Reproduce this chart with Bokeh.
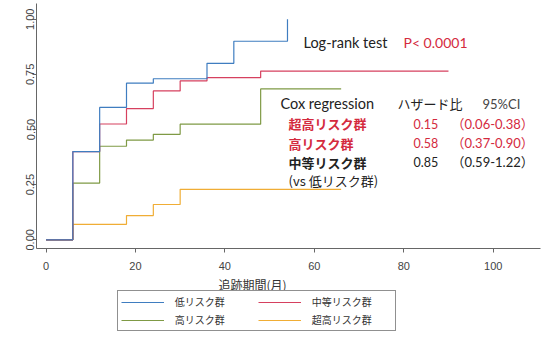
from bokeh.plotting import figure
from bokeh.models import Range1d, FixedTicker, Legend, LegendItem, Label
from bokeh.embed import file_html
from bokeh.resources import INLINE

# ---------------- data ----------------
months_low = [0, 6, 12, 18, 24, 36, 42, 54]
surv_low = [0.00, 0.40, 0.60, 0.71, 0.73, 0.80, 0.90, 1.00]
months_mid = [0, 6, 12, 18, 24, 30, 36, 48, 90]
surv_mid = [0.00, 0.40, 0.525, 0.595, 0.675, 0.72, 0.735, 0.765, 0.765]
months_high = [0, 6, 12, 18, 24, 30, 48, 66]
surv_high = [0.00, 0.257, 0.424, 0.452, 0.478, 0.524, 0.684, 0.684]
months_vhigh = [0, 6, 18, 24, 30, 66]
surv_vhigh = [0.00, 0.07, 0.11, 0.16, 0.229, 0.229]

group_labels = ["低リスク群", "中等リスク群", "高リスク群", "超高リスク群"]
x_ticks = [0, 20, 40, 60, 80, 100]
y_ticks = [0.0, 0.25, 0.5, 0.75, 1.0]
y_tick_labels = ["0.00", "0.25", "0.50", "0.75", "1.00"]
x_title = "追跡期間(月)"

logrank_label = "Log-rank test"
logrank_p = "P< 0.0001"
cox_header = ["Cox regression", "ハザード比", "95%CI"]
cox_groups = ["超高リスク群", "高リスク群", "中等リスク群"]
hazard_ratios = ["0.15", "0.58", "0.85"]
ci_95 = ["（0.06-0.38）", "（0.37-0.90）", "（0.59-1.22）"]
reference_group = "(vs 低リスク群)"

# ---------------- layout helpers (canvas pixel -> data) ----------------
W, H = 548, 338
IMG_X0, PX_PER_MONTH = 45.5, 4.472
IMG_Y0, PX_PER_UNIT = 239.3, 220.6


def dx(ix):
    return (ix - IMG_X0) / PX_PER_MONTH


def dy(iy):
    return (IMG_Y0 - iy) / PX_PER_UNIT


line_colors = ["#3f7dc0", "#d6405f", "#7f9a45", "#f0ad35"]
RED = "#d42a3e"
CJK = "Noto Sans CJK JP"
LATIN = "Lato, 'Noto Sans CJK JP'"

p = figure(width=W, height=H,
           x_range=Range1d(dx(0), dx(W)), y_range=Range1d(dy(H), dy(0)),
           min_border_left=0, min_border_right=0, min_border_top=0,
           min_border_bottom=0,
           output_backend="svg", toolbar_location=None)
p.outline_line_color = None
p.xgrid.visible = False
p.ygrid.visible = False
p.background_fill_color = "white"
p.border_fill_color = "white"

series = [(months_low, surv_low), (months_mid, surv_mid),
          (months_high, surv_high), (months_vhigh, surv_vhigh)]
renderers = [None] * 4
for i in [3, 2, 1, 0]:
    xs, ys = series[i]
    renderers[i] = p.step(xs, ys, mode="after", line_color=line_colors[i],
                          line_width=1.2)

items = [LegendItem(label=group_labels[i], renderers=[renderers[i]])
         for i in range(4)]

legend = Legend(items=items, ncols=2, orientation="horizontal",
                location=(116.7, H - 331),
                label_text_font=CJK, label_text_font_size="10px",
                label_text_color="#333333",
                glyph_width=43, glyph_height=12, label_height=12,
                label_width=80, label_standoff=11, spacing=3, padding=3,
                margin=0, border_line_color="#222222", border_line_width=1.5,
                background_fill_color="white", background_fill_alpha=1.0)
p.add_layout(legend)

# axes drawn at fixed positions
xa, ya = p.xaxis[0], p.yaxis[0]
xa.fixed_location = dy(248.3)
xa.bounds = (dx(36), dx(540))
ya.fixed_location = dx(36)
ya.bounds = (dy(248.3), dy(3))
for ax in (xa, ya):
    ax.axis_line_color = "#666666"
    ax.major_tick_line_color = "#666666"
    ax.minor_tick_line_color = None
    ax.major_tick_in = 0
    ax.major_tick_out = 4
    ax.major_label_text_font = "Liberation Sans"
    ax.major_label_text_font_size = "11px"
    ax.major_label_text_color = "#444444"

xa.ticker = FixedTicker(ticks=x_ticks)
xa.major_label_standoff = 9
ya.ticker = FixedTicker(ticks=y_ticks)
ya.major_label_overrides = {t: s for t, s in zip(y_ticks, y_tick_labels)}
ya.major_label_orientation = "vertical"
ya.major_label_standoff = -2

# x-axis title
p.add_layout(Label(x=dx(252), y=dy(284), text=x_title, text_align="center",
                   text_baseline="middle", text_font=CJK,
                   text_font_size="12px", text_color="#333333"))


def add_text(ix, iy, text, font, size, color="#222222", bold=False):
    p.add_layout(Label(x=dx(ix), y=dy(iy), text=text, text_align="left",
                       text_baseline="middle", text_font=font,
                       text_font_size=size, text_color=color,
                       text_font_style="bold" if bold else "normal"))


add_text(303, 42, logrank_label, LATIN, "14.5px")
add_text(403, 42, logrank_p, LATIN, "14px", RED)

add_text(280, 103.3, cox_header[0], LATIN, "14.5px")
add_text(397, 103.3, cox_header[1], CJK, "13px")
add_text(482, 103.3, cox_header[2], LATIN, "13px", "#444444")

row_y = [123.3, 142.7, 161.7]
row_colors = [RED, RED, "#222222"]
for k in range(3):
    add_text(288, row_y[k], cox_groups[k], CJK, "13px", row_colors[k], bold=True)
    add_text(413, row_y[k], hazard_ratios[k], LATIN, "12.5px", row_colors[k])
    add_text(451, row_y[k], ci_95[k], LATIN, "13px", row_colors[k])
add_text(288, 180, reference_group, CJK, "13px", "#222222")

open("out.html", "w").write(file_html(p, INLINE))
